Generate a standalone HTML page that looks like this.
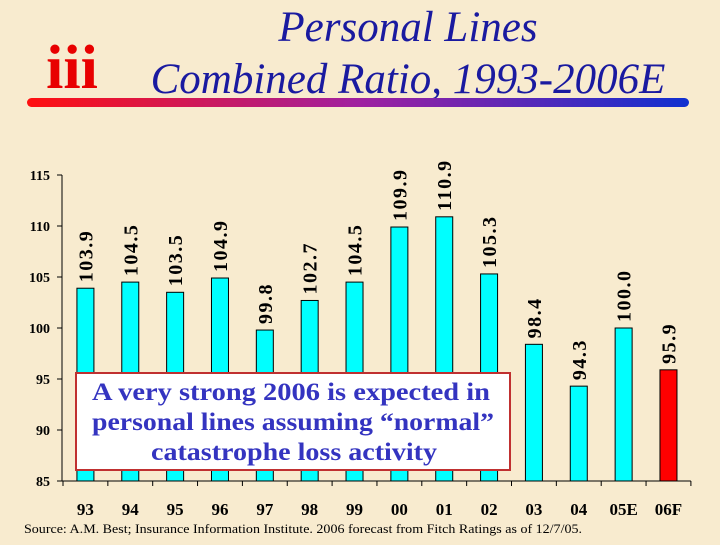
<!DOCTYPE html>
<html><head><meta charset="utf-8"><style>
body{margin:0;width:720px;height:540px;overflow:hidden;background:#f8ebcf;font-family:"Liberation Serif",serif;}
</style></head><body>
<svg width="720" height="540" xmlns="http://www.w3.org/2000/svg">
<defs><linearGradient id="g" x1="0" x2="1"><stop offset="0" stop-color="#ff1010"/><stop offset="0.5" stop-color="#a020a0"/><stop offset="1" stop-color="#1030d0"/></linearGradient></defs>
<rect width="720" height="540" fill="#f8ebcf"/>
<text x="72" y="88" font-size="62" font-weight="bold" fill="#e80000" text-anchor="middle" font-family="Liberation Serif">iii</text>
<text x="408" y="41" font-size="43" font-style="italic" fill="#1a1aa0" text-anchor="middle">Personal Lines</text>
<text x="408" y="93" font-size="43" font-style="italic" fill="#1a1aa0" text-anchor="middle">Combined Ratio, 1993-2006E</text>
<rect x="27" y="98" width="662" height="9" rx="4.5" fill="url(#g)"/>
<g id="plot"></g>
<rect x="76" y="373" width="434" height="97" fill="#fff" stroke="#c03030" stroke-width="2"/>
<g font-size="25" font-weight="bold" fill="#3434c0">
<text x="92" y="400" textLength="398" lengthAdjust="spacingAndGlyphs">A very strong 2006 is expected in</text>
<text x="92" y="430" textLength="402" lengthAdjust="spacingAndGlyphs">personal lines assuming “normal”</text>
<text x="151" y="460" textLength="286" lengthAdjust="spacingAndGlyphs">catastrophe loss activity</text></g>
<text x="24" y="533" font-size="13" fill="#000" textLength="558" lengthAdjust="spacingAndGlyphs">Source: A.M. Best; Insurance Information Institute. 2006 forecast from Fitch Ratings as of 12/7/05.</text>
</svg>
<script>
const categories=["93","94","95","96","97","98","99","00","01","02","03","04","05E","06F"];
const values=[103.9,104.5,103.5,104.9,99.8,102.7,104.5,109.9,110.9,105.3,98.4,94.3,100.0,95.9];
const labels=["103.9","104.5","103.5","104.9","99.8","102.7","104.5","109.9","110.9","105.3","98.4","94.3","100.0","95.9"];
const yTicks=[85,90,95,100,105,110,115];
const NS="http://www.w3.org/2000/svg";
const g=document.getElementById('plot');
const x0=63,band=44.85,yMin=85,yMax=115,yTop=175,yBot=481;
const y=v=>yBot-(v-yMin)/(yMax-yMin)*(yBot-yTop);
const xc=i=>x0+band*(i+0.5);
function el(t,a){const e=document.createElementNS(NS,t);for(const k in a)e.setAttribute(k,a[k]);g.appendChild(e);return e;}
values.forEach((v,i)=>{
 const r=el('rect',{x:xc(i)-8.5,y:y(v),width:17,height:yBot-y(v),fill:i==13?'#ff0000':'#00ffff',stroke:'#000','stroke-width':1});
 
 
 const t=el('text',{x:0,y:0,'font-size':20,'font-weight':'bold','letter-spacing':1.5,transform:`translate(${xc(i)+7},${y(v)-6}) rotate(-90)`});
 t.textContent=labels[i];
 
 
 const c=el('text',{x:xc(i),y:515,'font-size':17,'font-weight':'bold','text-anchor':'middle'});
 c.textContent=categories[i];
 
 
});
const ax=el('line',{x1:62,x2:62,y1:yTop,y2:yBot,stroke:'#000'});


const bx=el('line',{x1:62,x2:x0+band*14,y1:yBot,y2:yBot,stroke:'#000'});


for(let i=0;i<=14;i++){const tk=el('line',{x1:x0+band*i,x2:x0+band*i,y1:yBot,y2:yBot+5,stroke:'#000'});
 
 }
yTicks.forEach(v=>{
 const tk=el('line',{x1:57,x2:62,y1:y(v),y2:y(v),stroke:'#000'});
 
 
 const t=el('text',{x:50,y:y(v)+5,'font-size':14,'font-weight':'bold','text-anchor':'end'});
 t.textContent=v;
 
 
});
</script>
</body></html>
